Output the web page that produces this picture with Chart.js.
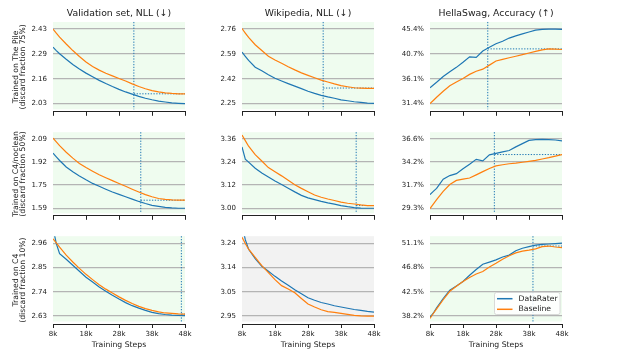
<!DOCTYPE html>
<html>
<head>
<meta charset="utf-8">
<script src="https://cdn.jsdelivr.net/npm/chart.js@4.4.1/dist/chart.umd.min.js"></script>
<style>
html, body { margin: 0; padding: 0; background: #fff; }
#wrap { position: relative; width: 634px; height: 356px; overflow: hidden; }
canvas { position: absolute; }
</style>
</head>
<body>
<div id="wrap"></div>
<script>
// training steps in thousands
const steps = [8, 9, 10, 12, 14, 16, 18, 20, 22, 24, 26, 28, 30, 32, 34, 36, 38, 40, 42, 44, 46, 48];
const xTicks = [8, 18, 28, 38, 48];

const colTitles = ['Validation set, NLL (↓)', 'Wikipedia, NLL (↓)', 'HellaSwag, Accuracy (↑)'];
const rowTitles = [
  ['Trained on The Pile', '(discard fraction 75%)'],
  ['Trained on C4/noclean', '(discard fraction 50%)'],
  ['Trained on C4', '(discard fraction 10%)']
];
const seriesNames = ['DataRater', 'Baseline'];

// row 1: The Pile
const pileValidRater = [2.333, 2.315, 2.298, 2.268, 2.240, 2.216, 2.194, 2.174, 2.155, 2.138, 2.122, 2.107, 2.093, 2.081, 2.069, 2.059, 2.051, 2.044, 2.039, 2.034, 2.032, 2.030];
const pileValidBase  = [2.430, 2.408, 2.387, 2.350, 2.315, 2.283, 2.254, 2.230, 2.210, 2.193, 2.179, 2.165, 2.152, 2.136, 2.122, 2.110, 2.100, 2.093, 2.088, 2.085, 2.083, 2.083];
const pileWikiRater  = [2.603, 2.574, 2.546, 2.499, 2.475, 2.448, 2.424, 2.405, 2.387, 2.370, 2.353, 2.335, 2.320, 2.307, 2.296, 2.287, 2.276, 2.270, 2.263, 2.259, 2.254, 2.252];
const pileWikiBase   = [2.764, 2.733, 2.703, 2.653, 2.614, 2.575, 2.549, 2.527, 2.503, 2.481, 2.461, 2.444, 2.427, 2.411, 2.398, 2.385, 2.374, 2.366, 2.359, 2.357, 2.355, 2.355];
const pileHellaRater = [34.39, 34.90, 35.41, 36.49, 37.38, 38.22, 39.18, 40.19, 40.08, 41.30, 41.99, 42.65, 43.13, 43.72, 44.14, 44.50, 44.86, 45.22, 45.34, 45.40, 45.40, 45.34];
const pileHellaBase  = [31.40, 32.00, 32.60, 33.73, 34.75, 35.47, 36.13, 36.90, 37.50, 37.88, 38.64, 39.42, 39.72, 40.02, 40.31, 40.61, 40.91, 41.21, 41.49, 41.69, 41.66, 41.57];

// row 2: C4/noclean
const nocleanValidRater = [1.987, 1.960, 1.934, 1.887, 1.853, 1.823, 1.795, 1.769, 1.748, 1.727, 1.707, 1.690, 1.673, 1.656, 1.639, 1.624, 1.611, 1.603, 1.596, 1.592, 1.590, 1.590];
const nocleanValidBase  = [2.096, 2.068, 2.041, 1.994, 1.951, 1.913, 1.883, 1.857, 1.831, 1.810, 1.789, 1.768, 1.748, 1.727, 1.707, 1.688, 1.673, 1.660, 1.654, 1.650, 1.648, 1.648];
const nocleanWikiRater  = [3.318, 3.255, 3.239, 3.208, 3.183, 3.162, 3.141, 3.123, 3.104, 3.085, 3.067, 3.054, 3.045, 3.036, 3.028, 3.021, 3.014, 3.008, 3.003, 3.001, 3.000, 3.000];
const nocleanWikiBase   = [3.380, 3.351, 3.322, 3.278, 3.245, 3.211, 3.189, 3.168, 3.145, 3.122, 3.103, 3.086, 3.069, 3.057, 3.048, 3.040, 3.032, 3.026, 3.022, 3.017, 3.014, 3.014];
const nocleanHellaRater = [30.73, 31.08, 31.39, 32.36, 32.74, 32.94, 33.45, 33.92, 34.45, 34.29, 34.92, 35.07, 35.23, 35.38, 35.76, 36.10, 36.44, 36.52, 36.54, 36.52, 36.48, 36.38];
const nocleanHellaBase  = [29.27, 29.74, 30.20, 31.08, 31.80, 32.23, 32.37, 32.48, 32.81, 33.15, 33.48, 33.76, 33.88, 33.98, 34.05, 34.14, 34.24, 34.34, 34.48, 34.62, 34.79, 34.95];

// row 3: C4
const c4ValidRater = [3.030, 2.958, 2.913, 2.887, 2.860, 2.833, 2.806, 2.784, 2.762, 2.742, 2.724, 2.707, 2.691, 2.677, 2.666, 2.656, 2.647, 2.641, 2.637, 2.634, 2.633, 2.632];
const c4ValidBase  = [2.980, 2.961, 2.942, 2.906, 2.875, 2.846, 2.819, 2.795, 2.772, 2.752, 2.734, 2.717, 2.701, 2.687, 2.674, 2.664, 2.656, 2.649, 2.644, 2.642, 2.640, 2.639];
const c4WikiRater  = [3.314, 3.254, 3.216, 3.179, 3.148, 3.128, 3.108, 3.090, 3.073, 3.055, 3.039, 3.023, 3.013, 3.004, 2.998, 2.991, 2.986, 2.981, 2.976, 2.973, 2.969, 2.966];
const c4WikiBase   = [3.264, 3.239, 3.216, 3.184, 3.151, 3.123, 3.095, 3.071, 3.058, 3.043, 3.020, 2.998, 2.986, 2.975, 2.968, 2.965, 2.961, 2.957, 2.953, 2.951, 2.950, 2.950];
const c4HellaRater = [37.98, 38.70, 39.65, 41.31, 42.76, 43.54, 44.32, 45.43, 46.43, 47.37, 47.76, 48.15, 48.65, 48.99, 49.76, 50.21, 50.49, 50.77, 50.88, 50.96, 51.02, 51.10];
const c4HellaBase  = [37.76, 38.65, 39.48, 41.09, 42.59, 43.48, 44.32, 45.04, 45.65, 46.10, 46.87, 47.54, 48.26, 48.88, 49.38, 49.71, 49.88, 50.10, 50.49, 50.60, 50.43, 50.32];

// y tick labels (bottom to top), per panel
const yLabels = [
  [['2.03', '2.16', '2.29', '2.43'], ['2.25', '2.42', '2.59', '2.76'], ['31.4%', '36.1%', '40.7%', '45.4%']],
  [['1.59', '1.75', '1.92', '2.09'], ['3.00', '3.12', '3.24', '3.36'], ['29.3%', '31.7%', '34.2%', '36.6%']],
  [['2.63', '2.74', '2.85', '2.96'], ['2.95', '3.05', '3.14', '3.24'], ['38.2%', '42.5%', '46.8%', '51.1%']]
];
const yLow  = [[2.03, 2.25, 31.4], [1.59, 3.00, 29.3], [2.63, 2.95, 38.2]];
const yHigh = [[2.43, 2.76, 45.4], [2.09, 3.36, 36.6], [2.96, 3.24, 51.1]];

// step where the dotted marker sits, and baseline level it points to
const matchStep  = [[32.5, 32.6, 25.5], [34.6, 42.6, 27.5], [46.9, null, 39.2]];
const matchLevel = [[2.083, 2.357, 41.69], [1.648, 3.014, 34.95], [2.639, null, 50.60]];
const improved = [[true, true, true], [true, true, true], [true, false, true]];

const raterRows = [
  [pileValidRater, pileWikiRater, pileHellaRater],
  [nocleanValidRater, nocleanWikiRater, nocleanHellaRater],
  [c4ValidRater, c4WikiRater, c4HellaRater]
];
const baseRows = [
  [pileValidBase, pileWikiBase, pileHellaBase],
  [nocleanValidBase, nocleanWikiBase, nocleanHellaBase],
  [c4ValidBase, c4WikiBase, c4HellaBase]
];

const FONT = 'DejaVu Sans';
const BLUE = '#1f77b4';
const ORANGE = '#ff7f0e';
const TEXT = '#1a1a1a';
const GAP = 2.5;
const plotLeft = [53, 242, 430];
const plotTop = [22, 126, 230];
const PW = 132, PH = 94;
const axisW = [53, 40, 45];

const panelBg = {
  id: 'panelBg',
  beforeDraw(chart, args, opts) {
    const { ctx, chartArea: a } = chart;
    ctx.save();
    ctx.fillStyle = opts.color;
    ctx.fillRect(a.left, a.top, a.right - a.left, a.bottom - a.top - GAP);
    ctx.restore();
  }
};

const marker = {
  id: 'marker',
  beforeDatasetsDraw(chart, args, opts) {
    if (opts.step == null) return;
    const { ctx, chartArea: a, scales } = chart;
    const x = scales.x.getPixelForValue(opts.step);
    ctx.save();
    ctx.strokeStyle = BLUE;
    ctx.lineWidth = 1;
    ctx.setLineDash([1.3, 1.5]);
    ctx.beginPath();
    ctx.moveTo(x, a.top);
    ctx.lineTo(x, a.bottom - GAP);
    if (opts.level != null) {
      const y = scales.y.getPixelForValue(opts.level);
      ctx.moveTo(x, y);
      ctx.lineTo(a.right, y);
    }
    ctx.stroke();
    ctx.restore();
  }
};

const boxLegend = {
  id: 'boxLegend',
  afterDraw(chart, args, opts) {
    if (!opts.show) return;
    const { ctx, chartArea: a } = chart;
    const w = 65.5, h = 22;
    const left = a.right - 2 - w, top = a.bottom - 9.5 - h;
    ctx.save();
    ctx.fillStyle = 'rgba(255,255,255,0.85)';
    ctx.strokeStyle = '#d0d0d0';
    ctx.lineWidth = 0.8;
    ctx.beginPath();
    ctx.roundRect(left, top, w, h, 2);
    ctx.fill();
    ctx.stroke();
    ctx.font = '7.7px "' + FONT + '"';
    ctx.textBaseline = 'middle';
    ctx.fillStyle = TEXT;
    chart.data.datasets.forEach((ds, i) => {
      const y = top + 6.2 + i * 10.6;
      ctx.strokeStyle = ds.borderColor;
      ctx.lineWidth = 1.5;
      ctx.beginPath();
      ctx.moveTo(left + 2.5, y);
      ctx.lineTo(left + 18, y);
      ctx.stroke();
      ctx.fillText(ds.label, left + 24, y);
    });
    ctx.restore();
  }
};

const wrap = document.getElementById('wrap');

function makePanel(r, c) {
  const LW = axisW[c], RW = 10;
  const TH = r === 0 ? 22 : 4;
  const BH = r === 2 ? 32 : 6;
  const w = LW + PW + RW, h = TH + PH + BH;
  const cv = document.createElement('canvas');
  cv.width = w; cv.height = h;
  cv.style.left = (plotLeft[c] - LW) + 'px';
  cv.style.top = (plotTop[r] - TH) + 'px';
  cv.style.width = w + 'px';
  cv.style.height = h + 'px';
  wrap.appendChild(cv);

  const lo = yLow[r][c], hi = yHigh[r][c];
  const span = hi - lo;
  const labels = yLabels[r][c];

  new Chart(cv, {
    type: 'line',
    data: {
      datasets: [
        { label: seriesNames[0], data: steps.map((s, i) => ({ x: s, y: raterRows[r][c][i] })),
          borderColor: BLUE, borderWidth: 1.2, pointRadius: 0, tension: 0, order: 1 },
        { label: seriesNames[1], data: steps.map((s, i) => ({ x: s, y: baseRows[r][c][i] })),
          borderColor: ORANGE, borderWidth: 1.2, pointRadius: 0, tension: 0, order: 0 }
      ]
    },
    options: {
      responsive: false,
      animation: false,
      events: [],
      layout: { autoPadding: false, padding: { left: 0, right: RW, top: r === 0 ? 0 : TH, bottom: 0 } },
      scales: {
        x: {
          type: 'linear', min: 8, max: 48,
          afterBuildTicks: s => { s.ticks = xTicks.map(v => ({ value: v })); },
          afterFit: s => { s.height = BH; },
          ticks: { callback: v => (r === 2 ? v + 'k' : ''), font: { family: FONT, size: 7 }, color: TEXT,
                   padding: 2, maxRotation: 0, autoSkip: false },
          grid: { drawOnChartArea: false, drawTicks: true, tickLength: 4, color: '#222', lineWidth: 1 },
          border: { display: true, color: '#222', width: 1 },
          title: { display: r === 2, text: 'Training Steps', color: TEXT,
                   font: { family: FONT, size: 7.7 }, padding: { top: 0, bottom: 6.4 } }
        },
        y: {
          type: 'linear',
          min: lo - span * 8.5 / 78,
          max: hi + span * 7.5 / 78,
          afterBuildTicks: s => { s.ticks = [0, 1, 2, 3].map(i => ({ value: lo + i * span / 3 })); },
          afterFit: s => { s.width = LW; },
          ticks: { callback: (v, i) => labels[i], font: { family: FONT, size: 7 }, color: TEXT, padding: 6 },
          grid: { drawTicks: false, color: '#b4b4b4', lineWidth: 1.3 },
          border: { display: false },
          title: { display: c === 0, text: rowTitles[r], color: TEXT,
                   font: { family: FONT, size: 7.7, lineHeight: 1.0 }, padding: { top: 11.7, bottom: 0 } }
        }
      },
      plugins: {
        legend: { display: false },
        tooltip: { enabled: false },
        title: { display: r === 0, text: colTitles[c], color: TEXT, fullSize: false,
                 font: { family: FONT, size: 9.3, weight: 'normal' }, padding: { top: 7.7, bottom: 3.1 } },
        panelBg: { color: improved[r][c] ? '#effcef' : '#f2f2f2' },
        marker: { step: matchStep[r][c], level: matchLevel[r][c] },
        boxLegend: { show: r === 2 && c === 2 }
      }
    },
    plugins: [panelBg, marker, boxLegend]
  });
}

for (let r = 0; r < 3; r++) {
  for (let c = 0; c < 3; c++) makePanel(r, c);
}
</script>
</body>
</html>
